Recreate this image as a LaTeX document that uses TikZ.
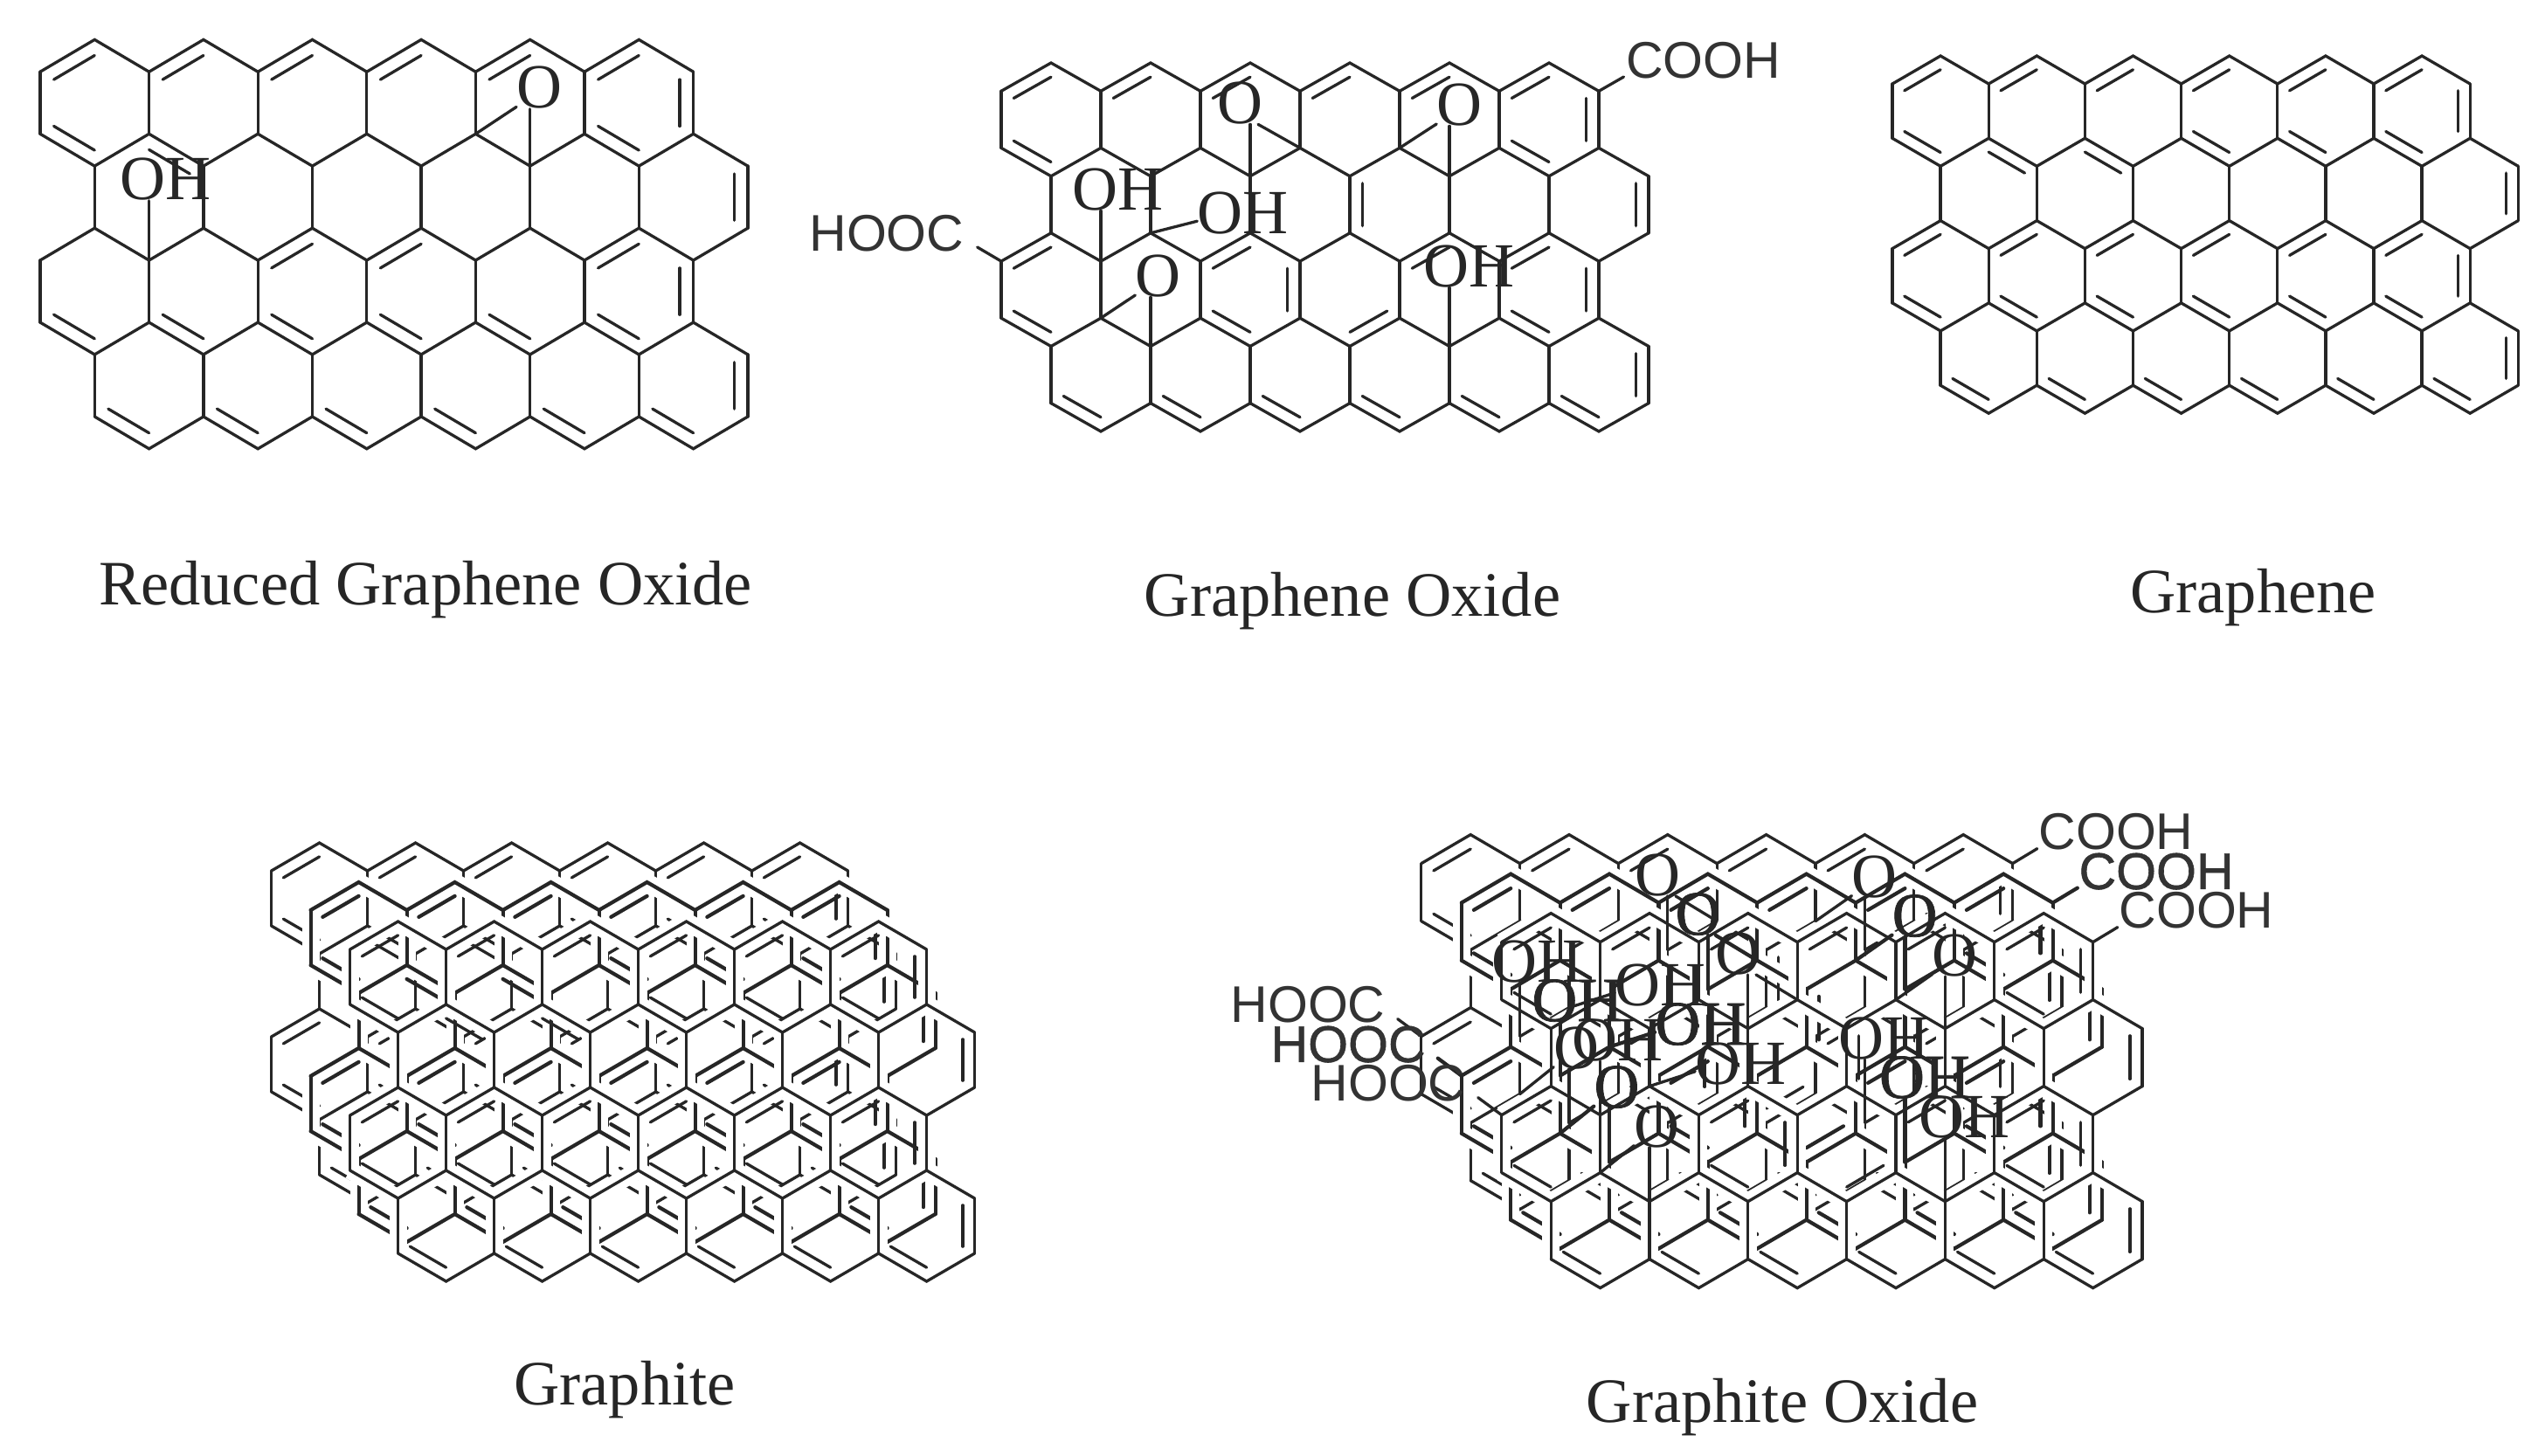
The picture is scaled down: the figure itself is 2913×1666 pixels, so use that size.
\documentclass[tikz,border=0pt]{standalone}
\usepackage{fontspec}
\setmainfont{Liberation Serif}
\setsansfont{Liberation Sans}
\usetikzlibrary{calc}

\newcommand{\bondw}{3.3pt}
\newcommand{\labelseries}{\mdseries}
\tikzset{
  bond/.style={line width=\bondw, draw=black!85, line join=miter, line cap=round},
  halo/.style={line width=20pt, draw=white, line cap=butt},
  oxy/.style={font=\labelseries\fontsize{72}{72}\selectfont, text=black!85, inner sep=0pt},
  acid/.style={font=\sffamily\labelseries\fontsize{59}{59}\selectfont, text=black!80, inner sep=1pt},
  caption/.style={font=\fontsize{72.4}{72}\selectfont, text=black!85, inner sep=0pt},
}

% one sheet: x0, y0, half width, row pitch, shoulder, double bonds c/row/side, groups
\newcommand{\hexsheet}[7]{
  \begin{scope}[shift={(#1,#2)}, x=#3pt, y=-1pt]
    \def\hh{#4}
    \def\ss{#5}
    \edef\dlist{#6}
    \foreach \pen in {halo,bond}{
      \foreach \rw/\a/\b in {0/0/12,1/0/13,2/0/13,3/0/13,4/1/13}{
        \draw[\pen] (\a,{\rw*\hh+\ss*(1-mod(\a+\rw,2))})
          \foreach \cc in {\a,...,\b}{ -- (\cc,{\rw*\hh+\ss*(1-mod(\cc+\rw,2))}) };
      }
      \foreach \rw/\a in {0/0,1/1,2/0,3/1}{
        \foreach \cc in {0,...,6}{
          \pgfmathtruncatemacro\vc{\a+2*\cc}
          \ifnum\vc<14
            \draw[\pen] (\vc,{\rw*\hh+\ss}) -- (\vc,{(\rw+1)*\hh});
          \fi
        }
      }
    }
    \foreach \cc/\rw/\sd in \dlist{
      \pgfmathtruncatemacro\nx{mod(\sd,6)+1}
      \coordinate (m) at (\cc,{\rw*\hh+(\hh+\ss)/2});
      \coordinate (p1) at (\cc,{\rw*\hh});
      \coordinate (p2) at ({\cc+1},{\rw*\hh+\ss});
      \coordinate (p3) at ({\cc+1},{(\rw+1)*\hh});
      \coordinate (p4) at (\cc,{(\rw+1)*\hh+\ss});
      \coordinate (p5) at ({\cc-1},{(\rw+1)*\hh});
      \coordinate (p6) at ({\cc-1},{\rw*\hh+\ss});
      \draw[bond] ($(m)!.75!(p\sd)$) -- ($(m)!.75!(p\nx)$);
    }
    #7
  \end{scope}
}

\newcommand{\graphenebonds}{1/0/6,1/0/4,3/0/6,5/0/6,7/0/6,7/0/4,9/0/6,9/0/4,11/0/6,11/0/2,11/0/4,
  2/1/1,4/1/1,12/1/2,
  1/2/6,1/2/4,3/2/6,3/2/4,5/2/6,5/2/4,7/2/6,7/2/4,9/2/6,9/2/4,11/2/6,11/2/2,11/2/4,
  2/3/4,4/3/4,6/3/4,8/3/4,10/3/4,12/3/2,12/3/4}
\newcommand{\oxidebonds}{1/0/6,1/0/4,3/0/6,5/0/6,7/0/6,9/0/6,11/0/6,11/0/2,11/0/4,
  8/1/5,12/1/2,
  1/2/6,1/2/4,5/2/6,5/2/2,5/2/4,7/2/3,9/2/6,11/2/6,11/2/2,11/2/4,
  2/3/4,4/3/4,6/3/4,8/3/4,10/3/4,12/3/2,12/3/4}

\newcommand{\oxidesheet}[5]{
  \hexsheet{#1}{#2}{#3}{#4}{#5}{\oxidebonds}{}
}
\newcommand{\oxidegroups}[5]{
  \begin{scope}[shift={(#1,#2)}, x=#3pt, y=-1pt]
    \def\hh{#4}
    \def\ss{#5}
    \coordinate (vcooh) at (12,\ss);
    \coordinate (vhooc) at (0,{2*\hh+\ss});
    \coordinate (ecooh) at (12.5,16);
    \coordinate (ehooc) at (-.48,211);
    \node[acid] (cooh) at (14.1,-3) {COOH};
    \node[acid] (hooc) at (-2.3,195) {HOOC};
    \draw[bond] (vcooh) -- (ecooh);
    \draw[bond] (vhooc) -- (ehooc);
    \node[oxy] (oa) at (4.8,46) {O};
    \coordinate (va) at (6,\hh);
    \coordinate (vb) at (5,{\hh+\ss});
    \draw[bond] (oa.-50) -- (va);
    \draw[bond] (oa.south -| vb) -- (vb);
    \node[oxy] (ob) at (9.2,48) {O};
    \coordinate (vc) at (8,\hh);
    \coordinate (vd) at (9,{\hh+\ss});
    \draw[bond] (ob.-140) -- (vc);
    \draw[bond] (ob.south -| vd) -- (vd);
    \node[oxy] (oh1) at (2.35,145) {OH};
    \coordinate (ve) at (2,{2*\hh+\ss});
    \draw[bond] (oh1.south -| ve) -- (ve);
    \node[oxy] (oh2) at (4.85,172) {OH};
    \coordinate (vf) at (3,{2*\hh});
    \draw[bond] (oh2.-170) -- (vf);
    \node[oxy] (oc) at (3.15,244) {O};
    \coordinate (vg) at (2,{3*\hh});
    \coordinate (vh) at (3,{3*\hh+\ss});
    \draw[bond] (oc.-140) -- (vg);
    \draw[bond] (oc.south -| vh) -- (vh);
    \node[oxy] (oh3) at (9.4,233) {OH};
    \coordinate (vi) at (9,{3*\hh+\ss});
    \draw[bond] (oh3.south -| vi) -- (vi);
  \end{scope}
}

\begin{document}
\begin{tikzpicture}[x=1pt, y=-1pt]
  \useasboundingbox (0,0) rectangle (2913,1666);

  \hexsheet{46}{45.4}{62.3}{107.9}{36.8}{1/0/6,1/0/4,3/0/6,5/0/6,7/0/6,9/0/6,11/0/6,11/0/2,11/0/4,
    2/1/1,12/1/2,
    1/2/4,3/2/4,5/2/6,5/2/4,7/2/6,7/2/4,9/2/4,11/2/6,11/2/2,11/2/4,
    2/3/4,4/3/4,6/3/4,8/3/4,10/3/4,12/3/2,12/3/4}{
    \node[oxy] (oxa) at (9.17,55) {O};
    \coordinate (rga) at (8,\hh);
    \coordinate (rgb) at (9,{\hh+\ss});
    \draw[bond] (oxa.-140) -- (rga);
    \draw[bond] (oxa.south -| rgb) -- (rgb);
    \node[oxy] (oxh) at (2.3,160) {OH};
    \coordinate (rgc) at (2,{2*\hh+\ss});
    \draw[bond] (oxh.south -| rgc) -- (rgc);
  }

  \oxidesheet{1146}{72}{57}{97.4}{32.3}
  \oxidegroups{1146}{72}{57}{97.4}{32.3}

  \hexsheet{2166}{64}{55.1}{94.3}{32}{\graphenebonds}{}

  \hexsheet{310.6}{965}{55}{95}{32}{\graphenebonds}{}
  \renewcommand{\bondw}{4.2pt}
  \hexsheet{355.6}{1010}{55}{95}{32}{\graphenebonds}{}
  \renewcommand{\bondw}{3.3pt}
  \hexsheet{400.6}{1055}{55}{95}{32}{\graphenebonds}{}

  \oxidesheet{1626.8}{955.6}{56.4}{99}{33}
  \renewcommand{\bondw}{4.2pt}
  \oxidesheet{1672.8}{1000.6}{56.4}{99}{33}
  \renewcommand{\bondw}{3.3pt}
  \oxidesheet{1718.8}{1045.6}{56.4}{99}{33}
  \oxidegroups{1626.8}{955.6}{56.4}{99}{33}
  \renewcommand{\bondw}{4.2pt}
  \renewcommand{\labelseries}{\addfontfeature{FakeBold=1}}
  \oxidegroups{1672.8}{1000.6}{56.4}{99}{33}
  \renewcommand{\bondw}{3.3pt}
  \renewcommand{\labelseries}{\mdseries}
  \oxidegroups{1718.8}{1045.6}{56.4}{99}{33}

  \node[caption] (rgolabel) at (487,675) {Reduced Graphene Oxide};
  \node[caption] (golabel) at (1548,688) {Graphene Oxide};
  \node[caption] (grlabel) at (2579,684) {Graphene};
  \node[caption] (gtlabel) at (715,1591) {Graphite};
  \node[caption] (gtolabel) at (2040,1611) {Graphite Oxide};
\end{tikzpicture}
\end{document}
